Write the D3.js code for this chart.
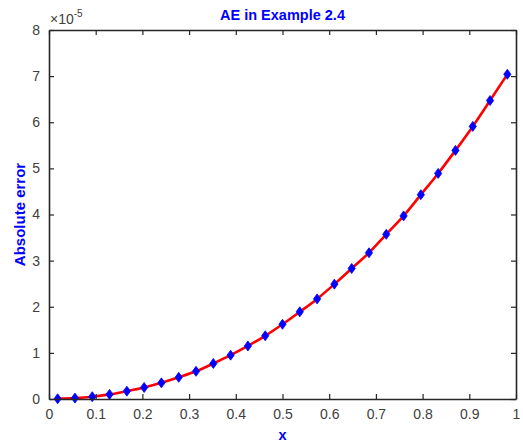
<!DOCTYPE html>
<html>
<head>
<meta charset="utf-8">
<script src="https://cdn.jsdelivr.net/npm/d3@7"></script>
<style>
  body { margin: 0; background: #fff; }
  svg { font-family: "Liberation Sans", Arial, sans-serif; }
</style>
</head>
<body>
<svg width="523" height="443"></svg>
<script>
// node positions and absolute errors (in units of 1e-5)
let xNodes = [0.0185, 0.0556, 0.0926, 0.1296, 0.1667, 0.2037, 0.2407, 0.2778, 0.3148,
              0.3519, 0.3889, 0.4259, 0.4630, 0.5000, 0.5370, 0.5741, 0.6111, 0.6481,
              0.6852, 0.7222, 0.7593, 0.7963, 0.8333, 0.8704, 0.9074, 0.9444, 0.9815];
let absErr = [0.005, 0.02, 0.05, 0.10, 0.17, 0.25, 0.35, 0.47, 0.60,
              0.77, 0.95, 1.15, 1.37, 1.62, 1.89, 2.17, 2.49, 2.83,
              3.17, 3.57, 3.97, 4.43, 4.89, 5.39, 5.91, 6.47, 7.04];
let xTicks = [0, 0.1, 0.2, 0.3, 0.4, 0.5, 0.6, 0.7, 0.8, 0.9, 1];
let yTicks = [0, 1, 2, 3, 4, 5, 6, 7, 8];

let margin = {top: 30, right: 7, bottom: 44, left: 49};
let width = 523 - margin.left - margin.right;
let height = 443 - margin.top - margin.bottom;
let axisColor = "#262626";
let tickLen = 5;

var svg = d3.select("svg");
var g = svg.append("g").attr("transform", "translate(" + margin.left + "," + margin.top + ")");

var x = d3.scaleLinear().domain([0, 1]).range([0, width]);
var y = d3.scaleLinear().domain([0, 8]).range([height, 0]);

let data = xNodes.map(function(d, i) { return {x: d, err: absErr[i]}; });

// red error curve
let line = d3.line()
    .x(function(d) { return x(d.x); })
    .y(function(d) { return y(d.err); })
    .curve(d3.curveMonotoneX);

g.append("path")
  .datum(data)
  .attr("fill", "none")
  .attr("stroke", "#ff0000")
  .attr("stroke-width", 2.6)
  .attr("stroke-linejoin", "round")
  .attr("d", line);

// blue diamond markers
g.selectAll("path.mark")
  .data(data)
  .enter().append("path")
  .attr("class", "mark")
  .attr("transform", function(d) { return "translate(" + x(d.x) + "," + y(d.err) + ")"; })
  .attr("d", "M0,-5L3.6,0L0,5L-3.6,0Z")
  .attr("fill", "#0000ff")
  .attr("stroke", "#0000ff")
  .attr("stroke-width", 0.8);

// axes (ticks inward on all four sides, like a boxed matlab axes)
function styleAxis(sel) {
  sel.selectAll("path.domain").attr("stroke", axisColor).attr("stroke-width", 1.6);
  sel.selectAll(".tick line").attr("stroke", axisColor).attr("stroke-width", 1.2);
  sel.selectAll("text").attr("fill", "#404040").attr("font-size", 14);
}

g.append("g")
  .attr("transform", "translate(0," + height + ")")
  .call(d3.axisBottom(x).tickValues(xTicks).tickSizeInner(-tickLen).tickSizeOuter(0).tickPadding(10)
        .tickFormat(d3.format("")))
  .call(styleAxis);

g.append("g")
  .call(d3.axisTop(x).tickValues(xTicks).tickSizeInner(-tickLen).tickSizeOuter(0).tickFormat(""))
  .call(styleAxis);

g.append("g")
  .call(d3.axisLeft(y).tickValues(yTicks).tickSizeInner(-tickLen).tickSizeOuter(0).tickPadding(9))
  .call(styleAxis);

g.append("g")
  .attr("transform", "translate(" + width + ",0)")
  .call(d3.axisRight(y).tickValues(yTicks).tickSizeInner(-tickLen).tickSizeOuter(0).tickFormat(""))
  .call(styleAxis);

// exponent multiplier
let expo = g.append("text")
  .attr("x", 1)
  .attr("y", -6)
  .attr("fill", "#404040")
  .attr("font-size", 14);
expo.append("tspan").text("\u00d710");
expo.append("tspan").attr("dy", -7).attr("font-size", 10).text("-5");

// title and labels
svg.append("text")
  .attr("x", margin.left + width / 2)
  .attr("y", 20)
  .attr("text-anchor", "middle")
  .attr("font-size", 14.5)
  .attr("font-weight", "bold")
  .attr("fill", "#0000ff")
  .text("AE in Example 2.4");

svg.append("text")
  .attr("x", margin.left + width / 2)
  .attr("y", 440)
  .attr("text-anchor", "middle")
  .attr("font-size", 14.5)
  .attr("font-weight", "bold")
  .attr("fill", "#0000ff")
  .text("x");

svg.append("text")
  .attr("transform", "translate(25," + (margin.top + height / 2) + ") rotate(-90)")
  .attr("text-anchor", "middle")
  .attr("font-size", 15)
  .attr("font-weight", "bold")
  .attr("fill", "#0000ff")
  .text("Absolute error");
</script>
</body>
</html>
